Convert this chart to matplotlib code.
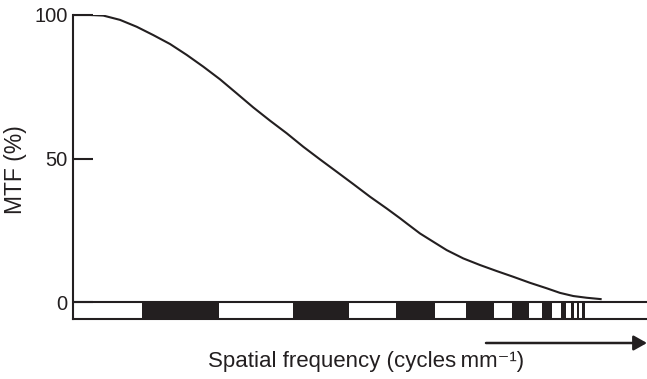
import matplotlib
matplotlib.use("Agg")
import matplotlib.pyplot as plt
from matplotlib.patches import Rectangle

plt.rcParams['font.family'] = ['Liberation Sans', 'DejaVu Sans']

# MTF curve (x in arbitrary spatial-frequency units 0-100, MTF in %)
freq = [0, 2.96, 5.28, 8.19, 11.10, 13.99, 16.90, 19.81, 22.70, 25.61, 28.52,
        31.41, 34.32, 37.23, 40.12, 43.03, 45.94, 48.83, 51.74, 54.65, 56.97,
        58.14, 60.45, 62.77, 65.10, 68.0, 70.91, 73.82, 76.71, 79.62, 82.53,
        84.84, 87.16, 89.49, 92.1]
mtf = [100, 100, 99.8, 98.3, 95.9, 93.0, 89.9, 86.1, 82.0, 77.6, 72.7,
       67.8, 63.2, 58.8, 54.1, 49.7, 45.4, 41.1, 36.7, 32.6, 29.2,
       27.4, 23.9, 21.0, 18.1, 15.2, 12.9, 10.8, 8.8, 6.7, 4.8,
       3.2, 2.1, 1.5, 1.0]

# bar-pattern strip: start and end of each black bar
bar_start = [12.0, 38.3, 56.3, 68.5, 76.5, 81.7, 85.0, 86.8, 87.8, 88.7]
bar_end = [25.4, 48.1, 63.1, 73.3, 79.4, 83.4, 85.9, 87.3, 88.2, 89.2]

yticks = [0, 50, 100]
ytick_labels = ['0', '50', '100']

INK = '#231f20'
W, H = 647, 379
fig = plt.figure(figsize=(W / 100, H / 100), dpi=100)
ax = fig.add_axes([73 / W, 1 - 319 / H, (W - 73) / W, (319 - 15) / H])

ax.plot(freq, mtf, color=INK, lw=1.5, solid_capstyle='butt',
        solid_joinstyle='round')
ax.axhline(0, color=INK, lw=1.5)
strip_h = 5.9
for s, e in zip(bar_start, bar_end):
    ax.add_patch(Rectangle((s, -strip_h), e - s, strip_h, facecolor=INK,
                           edgecolor='none'))

ax.set_xlim(0, 100)
ax.set_ylim(-strip_h, 100)
for side in ['top', 'right']:
    ax.spines[side].set_visible(False)
for side in ['left', 'bottom']:
    ax.spines[side].set_linewidth(1.5)
    ax.spines[side].set_color(INK)
ax.set_xticks([])
ax.set_yticks(yticks)
ax.set_yticklabels(ytick_labels, fontsize=14.5, color=INK)
ax.tick_params(axis='y', direction='in', length=14.4, width=1.5,
               color=INK, pad=4)

fig.text(16 / W, 1 - 170 / H, 'MTF (%)', rotation=90, ha='center',
         va='center', fontsize=16.5, color=INK)
fig.text(366 / W, 1 - 362 / H, 'Spatial frequency (cycles\u2009mm\u207b\u00b9)',
         ha='center', va='center', fontsize=16, color=INK)

ax.annotate('', xy=(647 / W, 1 - 343 / H), xytext=(486 / W, 1 - 343 / H),
            xycoords='figure fraction', textcoords='figure fraction',
            arrowprops=dict(arrowstyle='-|>,head_length=0.8,head_width=0.45',
                            color=INK, lw=1.8, shrinkA=0, shrinkB=0))

fig.savefig('out.png', dpi=100)
